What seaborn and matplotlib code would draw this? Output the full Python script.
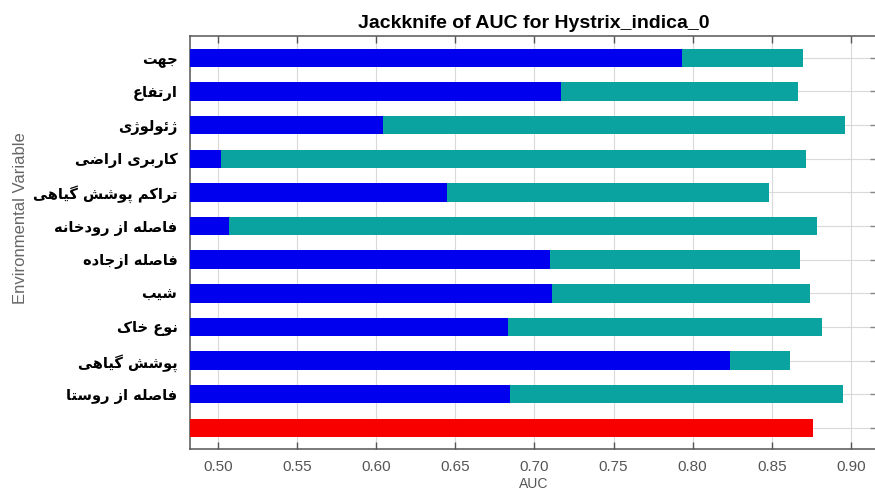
import matplotlib
matplotlib.use("Agg")
import matplotlib.pyplot as plt
import seaborn as sns
import pandas as pd
import numpy as np

# ---------------- data ----------------
variables = ["جهت", "ارتفاع", "ژئولوژی", "کاربری اراضی", "تراکم پوشش گیاهی",
             "فاصله از رودخانه", "فاصله ازجاده", "شیب", "نوع خاک", "پوشش گیاهی",
             "فاصله از روستا"]
without_variable = [0.870, 0.8665, 0.8965, 0.8715, 0.848, 0.8785, 0.868,
                    0.874, 0.882, 0.8615, 0.8948]
with_only_variable = [0.7935, 0.717, 0.604, 0.502, 0.645, 0.507, 0.7097,
                      0.711, 0.683, 0.8236, 0.6844]
all_label = "With all variables"
with_all_variables = [0.8761]
x_ticks = [0.50, 0.55, 0.60, 0.65, 0.70, 0.75, 0.80, 0.85, 0.90]

# -------- simple Persian shaping (presentation forms + visual order) --------
FORMS = {
    'ا': ('\uFE8D', '\uFE8E', None, None),
    'ب': ('\uFE8F', '\uFE90', '\uFE91', '\uFE92'),
    'پ': ('\uFB56', '\uFB57', '\uFB58', '\uFB59'),
    'ت': ('\uFE95', '\uFE96', '\uFE97', '\uFE98'),
    'ج': ('\uFE9D', '\uFE9E', '\uFE9F', '\uFEA0'),
    'خ': ('\uFEA5', '\uFEA6', '\uFEA7', '\uFEA8'),
    'د': ('\uFEA9', '\uFEAA', None, None),
    'ر': ('\uFEAD', '\uFEAE', None, None),
    'ز': ('\uFEAF', '\uFEB0', None, None),
    'ژ': ('\uFB8A', '\uFB8B', None, None),
    'س': ('\uFEB1', '\uFEB2', '\uFEB3', '\uFEB4'),
    'ش': ('\uFEB5', '\uFEB6', '\uFEB7', '\uFEB8'),
    'ص': ('\uFEB9', '\uFEBA', '\uFEBB', '\uFEBC'),
    'ض': ('\uFEBD', '\uFEBE', '\uFEBF', '\uFEC0'),
    'ط': ('\uFEC1', '\uFEC2', '\uFEC3', '\uFEC4'),
    'ع': ('\uFEC9', '\uFECA', '\uFECB', '\uFECC'),
    'ف': ('\uFED1', '\uFED2', '\uFED3', '\uFED4'),
    'ک': ('\uFB8E', '\uFB8F', '\uFB90', '\uFB91'),
    'گ': ('\uFB92', '\uFB93', '\uFB94', '\uFB95'),
    'ل': ('\uFEDD', '\uFEDE', '\uFEDF', '\uFEE0'),
    'م': ('\uFEE1', '\uFEE2', '\uFEE3', '\uFEE4'),
    'ن': ('\uFEE5', '\uFEE6', '\uFEE7', '\uFEE8'),
    'ه': ('\uFEE9', '\uFEEA', '\uFEEB', '\uFEEC'),
    'و': ('\uFEED', '\uFEEE', None, None),
    'ی': ('\uFBFC', '\uFBFD', '\uFBFE', '\uFBFF'),
    'ئ': ('\uFE89', '\uFE8A', '\uFE8B', '\uFE8C'),
}


def shape(text):
    out = []
    for i, c in enumerate(text):
        if c not in FORMS:
            out.append(c)
            continue
        prev = text[i - 1] if i > 0 else None
        nxt = text[i + 1] if i + 1 < len(text) else None
        jp = prev in FORMS and FORMS[prev][2] is not None
        jn = nxt in FORMS and FORMS[c][2] is not None
        iso, fin, ini, med = FORMS[c]
        if jp and jn:
            out.append(med)
        elif jp:
            out.append(fin)
        elif jn:
            out.append(ini)
        else:
            out.append(iso)
    return ''.join(reversed(out))


# ---------------- frame ----------------
order = variables + [all_label]
df_without = pd.DataFrame({"var": variables, "auc": without_variable})
df_only = pd.DataFrame({"var": variables, "auc": with_only_variable})
df_all = pd.DataFrame({"var": [all_label], "auc": with_all_variables})

sns.set_style("white")
plt.rcParams['font.family'] = ['Liberation Sans', 'DejaVu Sans']

W, H = 875, 494
fig = plt.figure(figsize=(W / 100, H / 100), dpi=100)
left, right, top, bottom = 190, 877, 36, 449
ax = fig.add_axes([left / W, 1 - bottom / H, (right - left) / W, (bottom - top) / H])

bar_h = 0.55
sns.barplot(data=df_without, x="auc", y="var", order=order, color="#0BA3A0",
            saturation=1, width=bar_h, ax=ax, orient="h", zorder=3)
sns.barplot(data=df_only, x="auc", y="var", order=order, color="#0000EE",
            saturation=1, width=bar_h, ax=ax, orient="h", zorder=4)
sns.barplot(data=df_all, x="auc", y="var", order=order, color="#F80000",
            saturation=1, width=bar_h, ax=ax, orient="h", zorder=4)

for p in ax.patches:
    p.set_linewidth(0)

ax.set_xlim(0.4823, 0.9165)
ax.set_ylim(11.63, -0.65)
ax.set_xticks(x_ticks)
ax.set_xticklabels([f"{t:.2f}" for t in x_ticks])
ax.set_yticks(range(len(order)))
ax.set_yticklabels([shape(v) for v in variables] + [""],
                   fontfamily="DejaVu Sans", fontweight="bold", fontsize=10.5,
                   color="black")

ax.grid(True, axis="both", color="#d9d9d9", linewidth=0.8, zorder=0)
ax.set_axisbelow(True)

ax.tick_params(axis="x", direction="in", length=5, width=1, color="#555555",
               top=True, bottom=True, labelsize=11, labelcolor="#555555", pad=8)
ax.tick_params(axis="y", direction="in", length=5, width=1, color="#888888",
               left=False, right=True, pad=9)

for s in ax.spines.values():
    s.set_color("#555555")
    s.set_linewidth(1.1)

ax.set_xlabel("AUC", fontsize=10, color="#555555", labelpad=2)
ax.set_ylabel("Environmental Variable", fontsize=12, color="#666666")
ax.yaxis.set_label_coords(-162 / (right - left), 0.56)
ax.set_title("Jackknife of AUC for Hystrix_indica_0", fontsize=14,
             fontweight="bold", color="black", pad=6)

fig.savefig("out.png", dpi=100)
